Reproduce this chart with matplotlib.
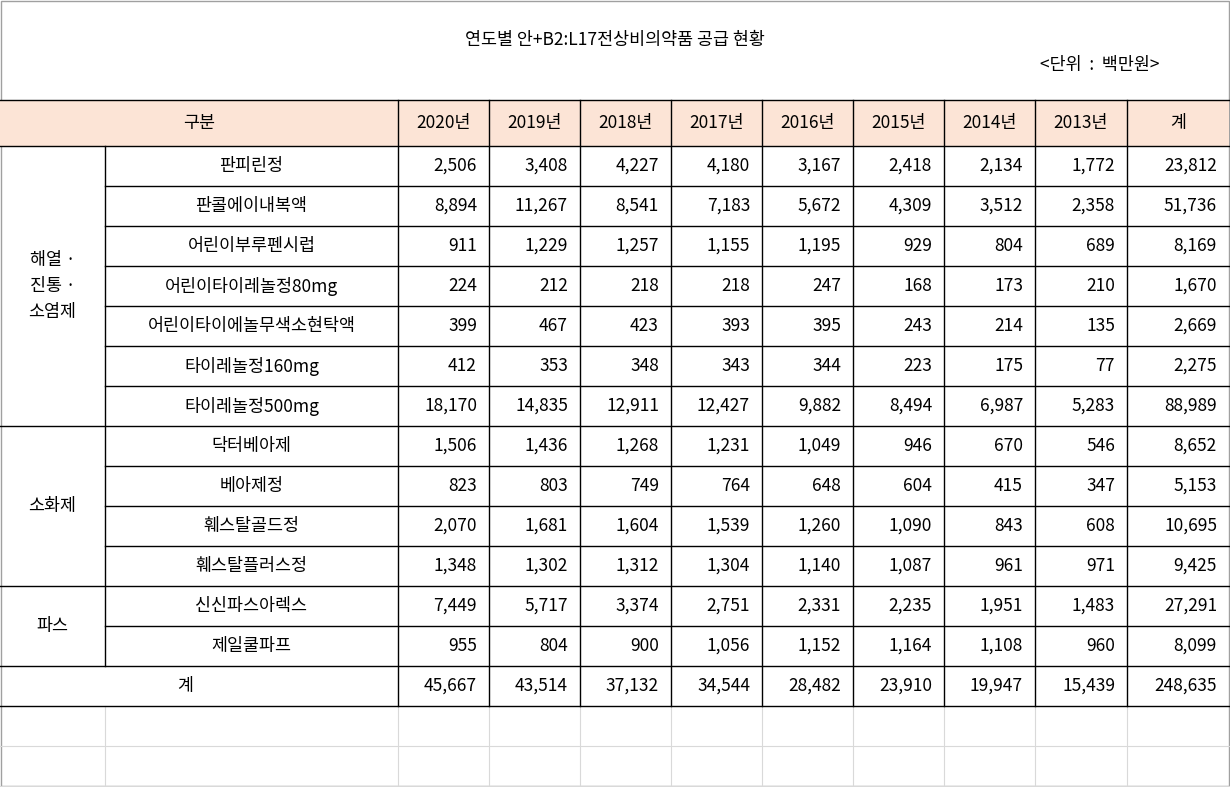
import matplotlib
matplotlib.use("Agg")
import matplotlib.pyplot as plt
from matplotlib.patches import Rectangle

plt.rcParams["font.family"] = ["Noto Sans CJK JP", "Noto Sans CJK KR", "Noto Sans CJK SC", "DejaVu Sans"]

title = "연도별 안+B2:L17전상비의약품 공급 현황"
unit = "<단위  :  백만원>"
headers = ["2020년", "2019년", "2018년", "2017년", "2016년", "2015년", "2014년", "2013년", "계"]
groups = [("해열 ·\n진통 ·\n소염제", 7), ("소화제", 4), ("파스", 2)]
products = ["판피린정", "판콜에이내복액", "어린이부루펜시럽", "어린이타이레놀정80mg",
            "어린이타이에놀무색소현탁액", "타이레놀정160mg", "타이레놀정500mg",
            "닥터베아제", "베아제정", "훼스탈골드정", "훼스탈플러스정",
            "신신파스아렉스", "제일쿨파프"]
values = [
    [2506, 3408, 4227, 4180, 3167, 2418, 2134, 1772, 23812],
    [8894, 11267, 8541, 7183, 5672, 4309, 3512, 2358, 51736],
    [911, 1229, 1257, 1155, 1195, 929, 804, 689, 8169],
    [224, 212, 218, 218, 247, 168, 173, 210, 1670],
    [399, 467, 423, 393, 395, 243, 214, 135, 2669],
    [412, 353, 348, 343, 344, 223, 175, 77, 2275],
    [18170, 14835, 12911, 12427, 9882, 8494, 6987, 5283, 88989],
    [1506, 1436, 1268, 1231, 1049, 946, 670, 546, 8652],
    [823, 803, 749, 764, 648, 604, 415, 347, 5153],
    [2070, 1681, 1604, 1539, 1260, 1090, 843, 608, 10695],
    [1348, 1302, 1312, 1304, 1140, 1087, 961, 971, 9425],
    [7449, 5717, 3374, 2751, 2331, 2235, 1951, 1483, 27291],
    [955, 804, 900, 1056, 1152, 1164, 1108, 960, 8099],
]
totals = [45667, 43514, 37132, 34544, 28482, 23910, 19947, 15439, 248635]

W, H = 1230, 787
fig = plt.figure(figsize=(W / 100, H / 100), dpi=100)
ax = fig.add_axes([0, 0, 1, 1])
ax.set_xlim(0, W); ax.set_ylim(H, 0); ax.axis("off")

xs = [0, 105, 398, 489, 580, 671, 762, 853, 944, 1035, 1127, 1229]
y_head0, y_head1 = 100, 146
rh = 40
n = len(products)
y_rows = [y_head1 + i * rh for i in range(n + 2)]
y_end = y_rows[-1]
fs = 12.5

for k in range(1, 3):
    ax.plot([0, W], [y_end + k * rh] * 2, color="#d9d9d9", lw=0.8)
for x in xs[1:-1]:
    ax.plot([x, x], [y_end, H], color="#d9d9d9", lw=0.8)
ax.add_patch(Rectangle((0.5, 0.5), W - 1.5, H - 1.5, fill=False, ec="#a0a0a0", lw=1))

ax.add_patch(Rectangle((0, y_head0), xs[-1], y_head1 - y_head0, fc="#fce4d6", ec="none"))
ax.text((xs[0] + xs[2]) / 2, (y_head0 + y_head1) / 2, "구분", ha="center", va="center", fontsize=fs)
for j, h in enumerate(headers):
    ax.text((xs[j + 2] + xs[j + 3]) / 2, (y_head0 + y_head1) / 2, h, ha="center", va="center", fontsize=fs)

ax.text(615, 40, title, ha="center", va="center", fontsize=fs)
ax.text(1100, 65, unit, ha="center", va="center", fontsize=fs)

for i, (p, vals) in enumerate(zip(products, values)):
    yc = y_rows[i] + rh / 2
    ax.text((xs[1] + xs[2]) / 2, yc, p, ha="center", va="center", fontsize=fs)
    for j, v in enumerate(vals):
        ax.text(xs[j + 3] - 12, yc, f"{v:,}", ha="right", va="center", fontsize=fs)
yc = y_rows[n] + rh / 2
ax.text(185, yc, "계", ha="center", va="center", fontsize=fs)
for j, v in enumerate(totals):
    ax.text(xs[j + 3] - 12, yc, f"{v:,}", ha="right", va="center", fontsize=fs)

start = 0
group_bounds = set()
for g, cnt in groups:
    y0, y1 = y_rows[start], y_rows[start + cnt]
    ax.text((xs[0] + xs[1]) / 2, (y0 + y1) / 2, g, ha="center", va="center", fontsize=fs, linespacing=1.6)
    group_bounds.add(start + cnt)
    start += cnt

lc = "black"; lw = 1.0
ax.plot([0, xs[-1]], [y_head0] * 2, color=lc, lw=lw)
ax.plot([0, xs[-1]], [y_head1] * 2, color=lc, lw=lw)
for i in range(1, n + 2):
    x0 = 0 if (i in group_bounds or i == n + 1) else xs[1]
    ax.plot([x0, xs[-1]], [y_rows[i]] * 2, color=lc, lw=lw)
ax.plot([xs[1], xs[1]], [y_head1, y_rows[n]], color=lc, lw=lw)
for x in xs[2:-1]:
    ax.plot([x, x], [y_head0, y_end], color=lc, lw=lw)

fig.savefig("out.png", dpi=100)
